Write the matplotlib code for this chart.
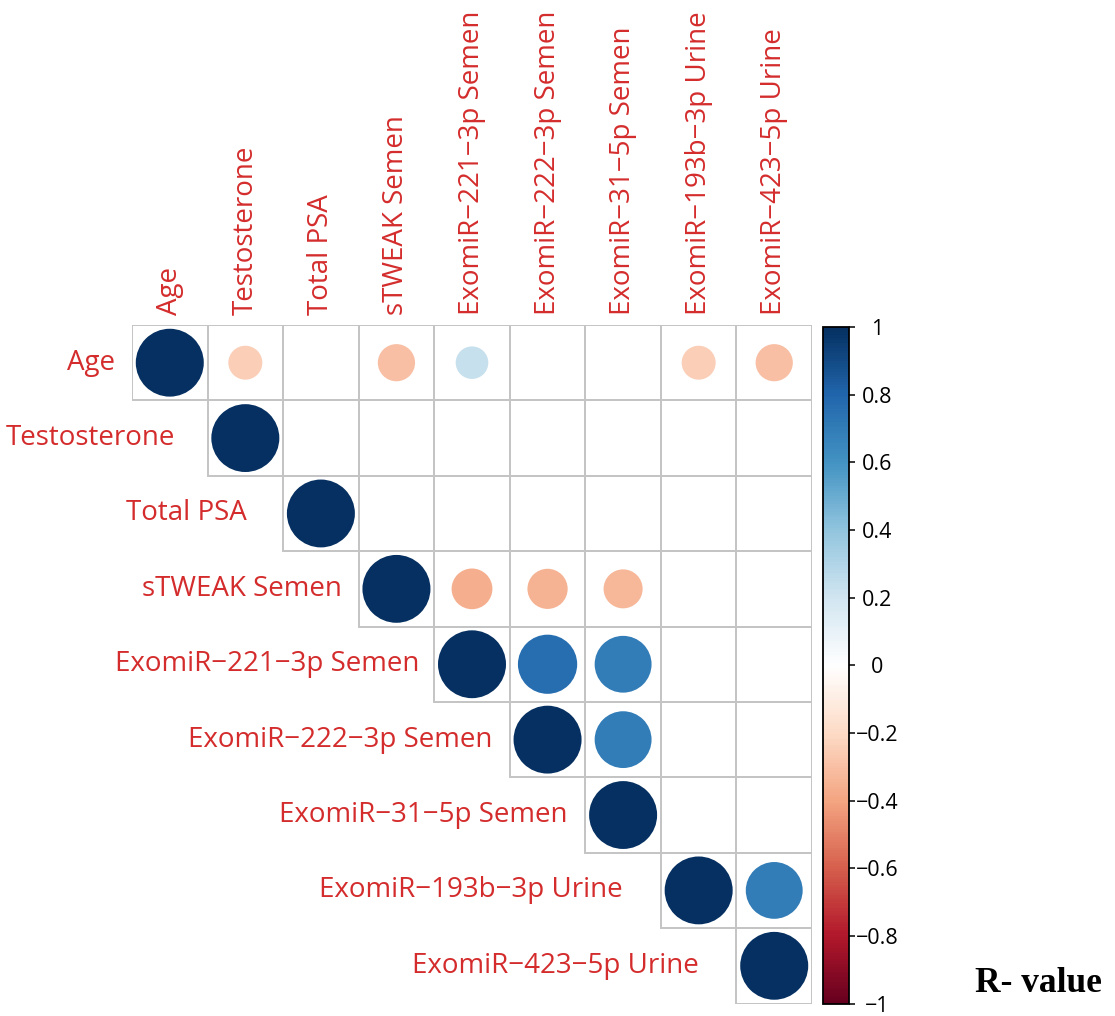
import matplotlib
matplotlib.use('Agg')
import matplotlib.pyplot as plt
import numpy as np
from matplotlib.colors import LinearSegmentedColormap, Normalize
from matplotlib.cm import ScalarMappable
from matplotlib.patches import Circle, Rectangle

plt.rcParams['font.family'] = ['Open Sans', 'DejaVu Sans']

variables = [
    'Age',
    'Testosterone',
    'Total PSA',
    'sTWEAK Semen',
    'ExomiR\u2212221\u22123p Semen',
    'ExomiR\u2212222\u22123p Semen',
    'ExomiR\u221231\u22125p Semen',
    'ExomiR\u2212193b\u22123p Urine',
    'ExomiR\u2212423\u22125p Urine',
]

# upper triangle of the correlation matrix, row by row (0 = not shown)
row_age = [1.0, -0.25, 0.0, -0.30, 0.23, 0.0, 0.0, -0.25, -0.30]
row_testosterone = [1.0, 0.0, 0.0, 0.0, 0.0, 0.0, 0.0, 0.0]
row_psa = [1.0, 0.0, 0.0, 0.0, 0.0, 0.0, 0.0]
row_stweak = [1.0, -0.36, -0.35, -0.33, 0.0, 0.0]
row_mir221 = [1.0, 0.76, 0.70, 0.0, 0.0]
row_mir222 = [1.0, 0.70, 0.0, 0.0]
row_mir31 = [1.0, 0.0, 0.0]
row_mir193b = [1.0, 0.70]
row_mir423 = [1.0]

cbar_ticks = [1, 0.8, 0.6, 0.4, 0.2, 0, -0.2, -0.4, -0.6, -0.8, -1]

rows = [row_age, row_testosterone, row_psa, row_stweak, row_mir221,
        row_mir222, row_mir31, row_mir193b, row_mir423]
n = len(variables)
corr = np.zeros((n, n))
for i, vals in enumerate(rows):
    corr[i, i:] = vals

# corrplot's RdBu ramp
cmap = LinearSegmentedColormap.from_list('corr_rdbu', [
    '#67001F', '#B2182B', '#D6604D', '#F4A582', '#FDDBC7', '#FFFFFF',
    '#D1E5F0', '#92C5DE', '#4393C3', '#2166AC', '#053061'])
norm = Normalize(-1, 1)

label_red = '#d42c2c'
grid_grey = '#c4c4c4'
W, H = 1115, 1016
fig = plt.figure(figsize=(W / 100, H / 100), dpi=100)

# grid spans x 132..812, y 325..1003.5 in pixels
gx0, gx1, gy0, gy1 = 132, 812, 325, 1003.5
ax = fig.add_axes([gx0 / W, (H - gy1) / H, (gx1 - gx0) / W, (gy1 - gy0) / H])
ax.set_xlim(0, n)
ax.set_ylim(n, 0)
ax.axis('off')
cell_px = (gx1 - gx0) / n

for i in range(n):
    for j in range(i, n):
        ax.add_patch(Rectangle((j, i), 1, 1, fill=False, edgecolor=grid_grey,
                               linewidth=1.4, zorder=1))
        r = corr[i, j]
        if r != 0:
            ax.add_patch(Circle((j + 0.5, i + 0.5), 0.45 * np.sqrt(abs(r)),
                                facecolor=cmap(norm(r)), edgecolor='none', zorder=2))

# row labels sit left of the diagonal cell
row_label_gap_px = [17, 32, 36, 17, 15, 17, 18, 38, 38]
for i, name in enumerate(variables):
    ax.text(i - row_label_gap_px[i] / cell_px, i + 0.5, name, ha='right', va='center',
            fontsize=20, color=label_red, clip_on=False)
    ax.text(i + 0.5, -10 / cell_px, name, rotation=90, ha='center', va='bottom',
            fontsize=20, color=label_red, clip_on=False)

# colour legend
cax = fig.add_axes([823 / W, (H - 1003.5) / H, 26 / W, (1003.5 - 327) / H])
cb = fig.colorbar(ScalarMappable(norm=norm, cmap=cmap), cax=cax, ticks=cbar_ticks)
cb.outline.set_linewidth(1.3)
cb.ax.set_yticklabels([f'{t:g}'.replace('-', '\u2212') for t in cbar_ticks])
cax.tick_params(axis='y', length=4, width=1.1, pad=16, labelsize=15.5)
for lbl in cax.get_yticklabels():
    lbl.set_horizontalalignment('center')

fig.text(975 / W, (H - 992) / H, 'R- value', ha='left', va='baseline',
         fontsize=25.5, fontweight='bold', family='Liberation Serif')

fig.savefig('out.png', dpi=100, facecolor='white')
